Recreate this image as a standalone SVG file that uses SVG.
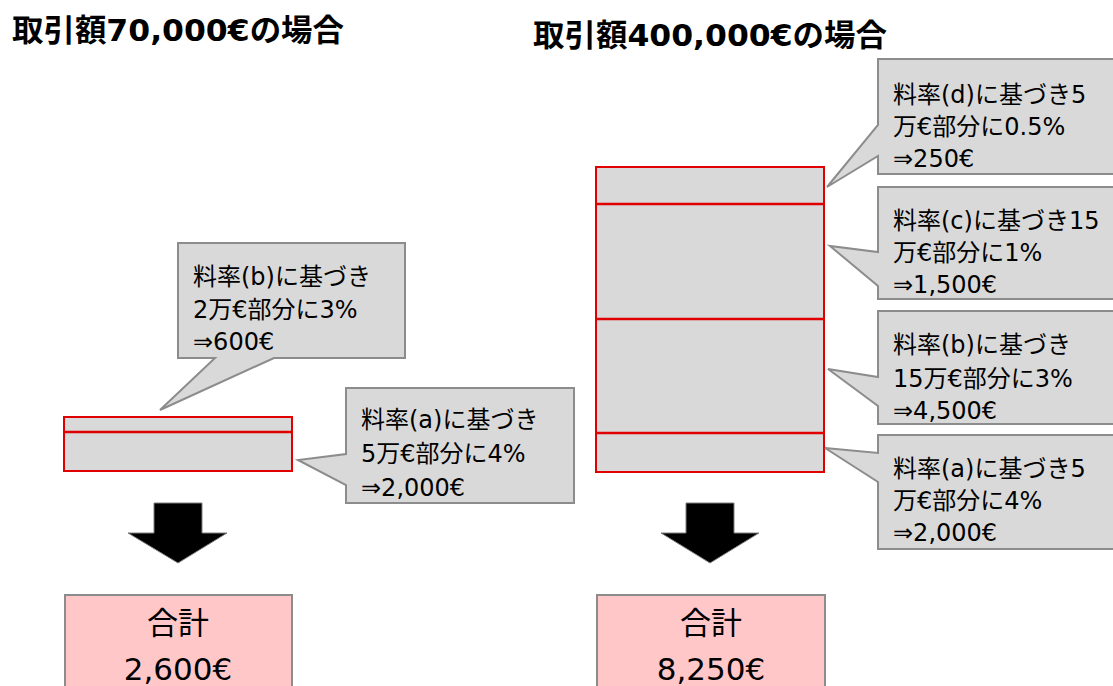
<svg xmlns="http://www.w3.org/2000/svg" width="1113" height="686" viewBox="0 0 1113 686">
<style>
.title{font-family:"DejaVu Sans","Noto Sans CJK JP",sans-serif;font-weight:bold;font-size:31px;fill:#000}
.ct{font-family:"DejaVu Sans","Noto Sans CJK JP",sans-serif;font-size:24px;fill:#000}
.tt{font-family:"DejaVu Sans","Noto Sans CJK JP",sans-serif;font-size:31px;fill:#000;text-anchor:middle}
.callout{fill:#D9D9D9;stroke:#8C8C8C;stroke-width:2}
.bar{fill:#D9D9D9;stroke:#E00000;stroke-width:2}
.div{stroke:#E00000;stroke-width:2.5}
.arrow{fill:#000;stroke:#7F7F7F;stroke-width:1}
.total{fill:#FFC7C7;stroke:#8C8C8C;stroke-width:2}
</style>
<rect width="1113" height="686" fill="#fff"/>
<text id="title-left" class="title" x="12" y="41" textLength="332" lengthAdjust="spacingAndGlyphs">取引額70,000€の場合</text>
<text id="title-right" class="title" x="533" y="46" textLength="354" lengthAdjust="spacingAndGlyphs">取引額400,000€の場合</text>

<g id="bar-left">
<rect class="bar" x="64" y="417" width="228" height="54"/>
<line class="div" x1="64" y1="432" x2="292" y2="432"/>
</g>
<g id="bar-right">
<rect class="bar" x="596" y="167" width="228" height="305"/>
<line class="div" x1="596" y1="204" x2="824" y2="204"/>
<line class="div" x1="596" y1="319" x2="824" y2="319"/>
<line class="div" x1="596" y1="433" x2="824" y2="433"/>
</g>

<g id="callout-left-b">
<path class="callout" d="M178,243 H405 V358 H274 L160,410 L215,358 H178 Z"/>
<text class="ct" x="193" y="285">料率(b)に基づき</text>
<text class="ct" x="193" y="318">2万€部分に3%</text>
<text class="ct" x="193" y="350">⇒600€</text>
</g>
<g id="callout-left-a">
<path class="callout" d="M346,388 H574 V503 H346 V485 L298,460 L346,454 Z"/>
<text class="ct" x="361" y="428">料率(a)に基づき</text>
<text class="ct" x="361" y="462">5万€部分に4%</text>
<text class="ct" x="361" y="496">⇒2,000€</text>
</g>
<g id="callout-right-d">
<path class="callout" d="M878,59 H1125 V174 H878 V156 L827,187 L878,125 Z"/>
<text class="ct" x="893" y="103">料率(d)に基づき5</text>
<text class="ct" x="893" y="135">万€部分に0.5%</text>
<text class="ct" x="893" y="167">⇒250€</text>
</g>
<g id="callout-right-c">
<path class="callout" d="M878,187 H1125 V299 H878 V286 L830,246 L878,252 Z"/>
<text class="ct" x="893" y="229">料率(c)に基づき15</text>
<text class="ct" x="893" y="261">万€部分に1%</text>
<text class="ct" x="893" y="293">⇒1,500€</text>
</g>
<g id="callout-right-b">
<path class="callout" d="M878,311 H1125 V424 H878 V406 L828,369 L878,377 Z"/>
<text class="ct" x="893" y="353">料率(b)に基づき</text>
<text class="ct" x="893" y="387">15万€部分に3%</text>
<text class="ct" x="893" y="419">⇒4,500€</text>
</g>
<g id="callout-right-a">
<path class="callout" d="M878,435 H1125 V549 H878 V482 L825,448 L878,453 Z"/>
<text class="ct" x="893" y="477">料率(a)に基づき5</text>
<text class="ct" x="893" y="509">万€部分に4%</text>
<text class="ct" x="893" y="541">⇒2,000€</text>
</g>

<g id="connectors">
<path class="arrow" d="M154,503 H202 V533 H227 L178,563 L128,533 H154 Z"/>
<path class="arrow" d="M686,503 H734 V533 H759 L710,563 L661,533 H686 Z"/>
</g>

<g id="total-left">
<rect class="total" x="65" y="595" width="227" height="100"/>
<text class="tt" x="178" y="634">合計</text>
<text class="tt" x="178" y="680">2,600€</text>
</g>
<g id="total-right">
<rect class="total" x="597" y="595" width="228" height="100"/>
<text class="tt" x="711" y="634">合計</text>
<text class="tt" x="711" y="680">8,250€</text>
</g>
</svg>
